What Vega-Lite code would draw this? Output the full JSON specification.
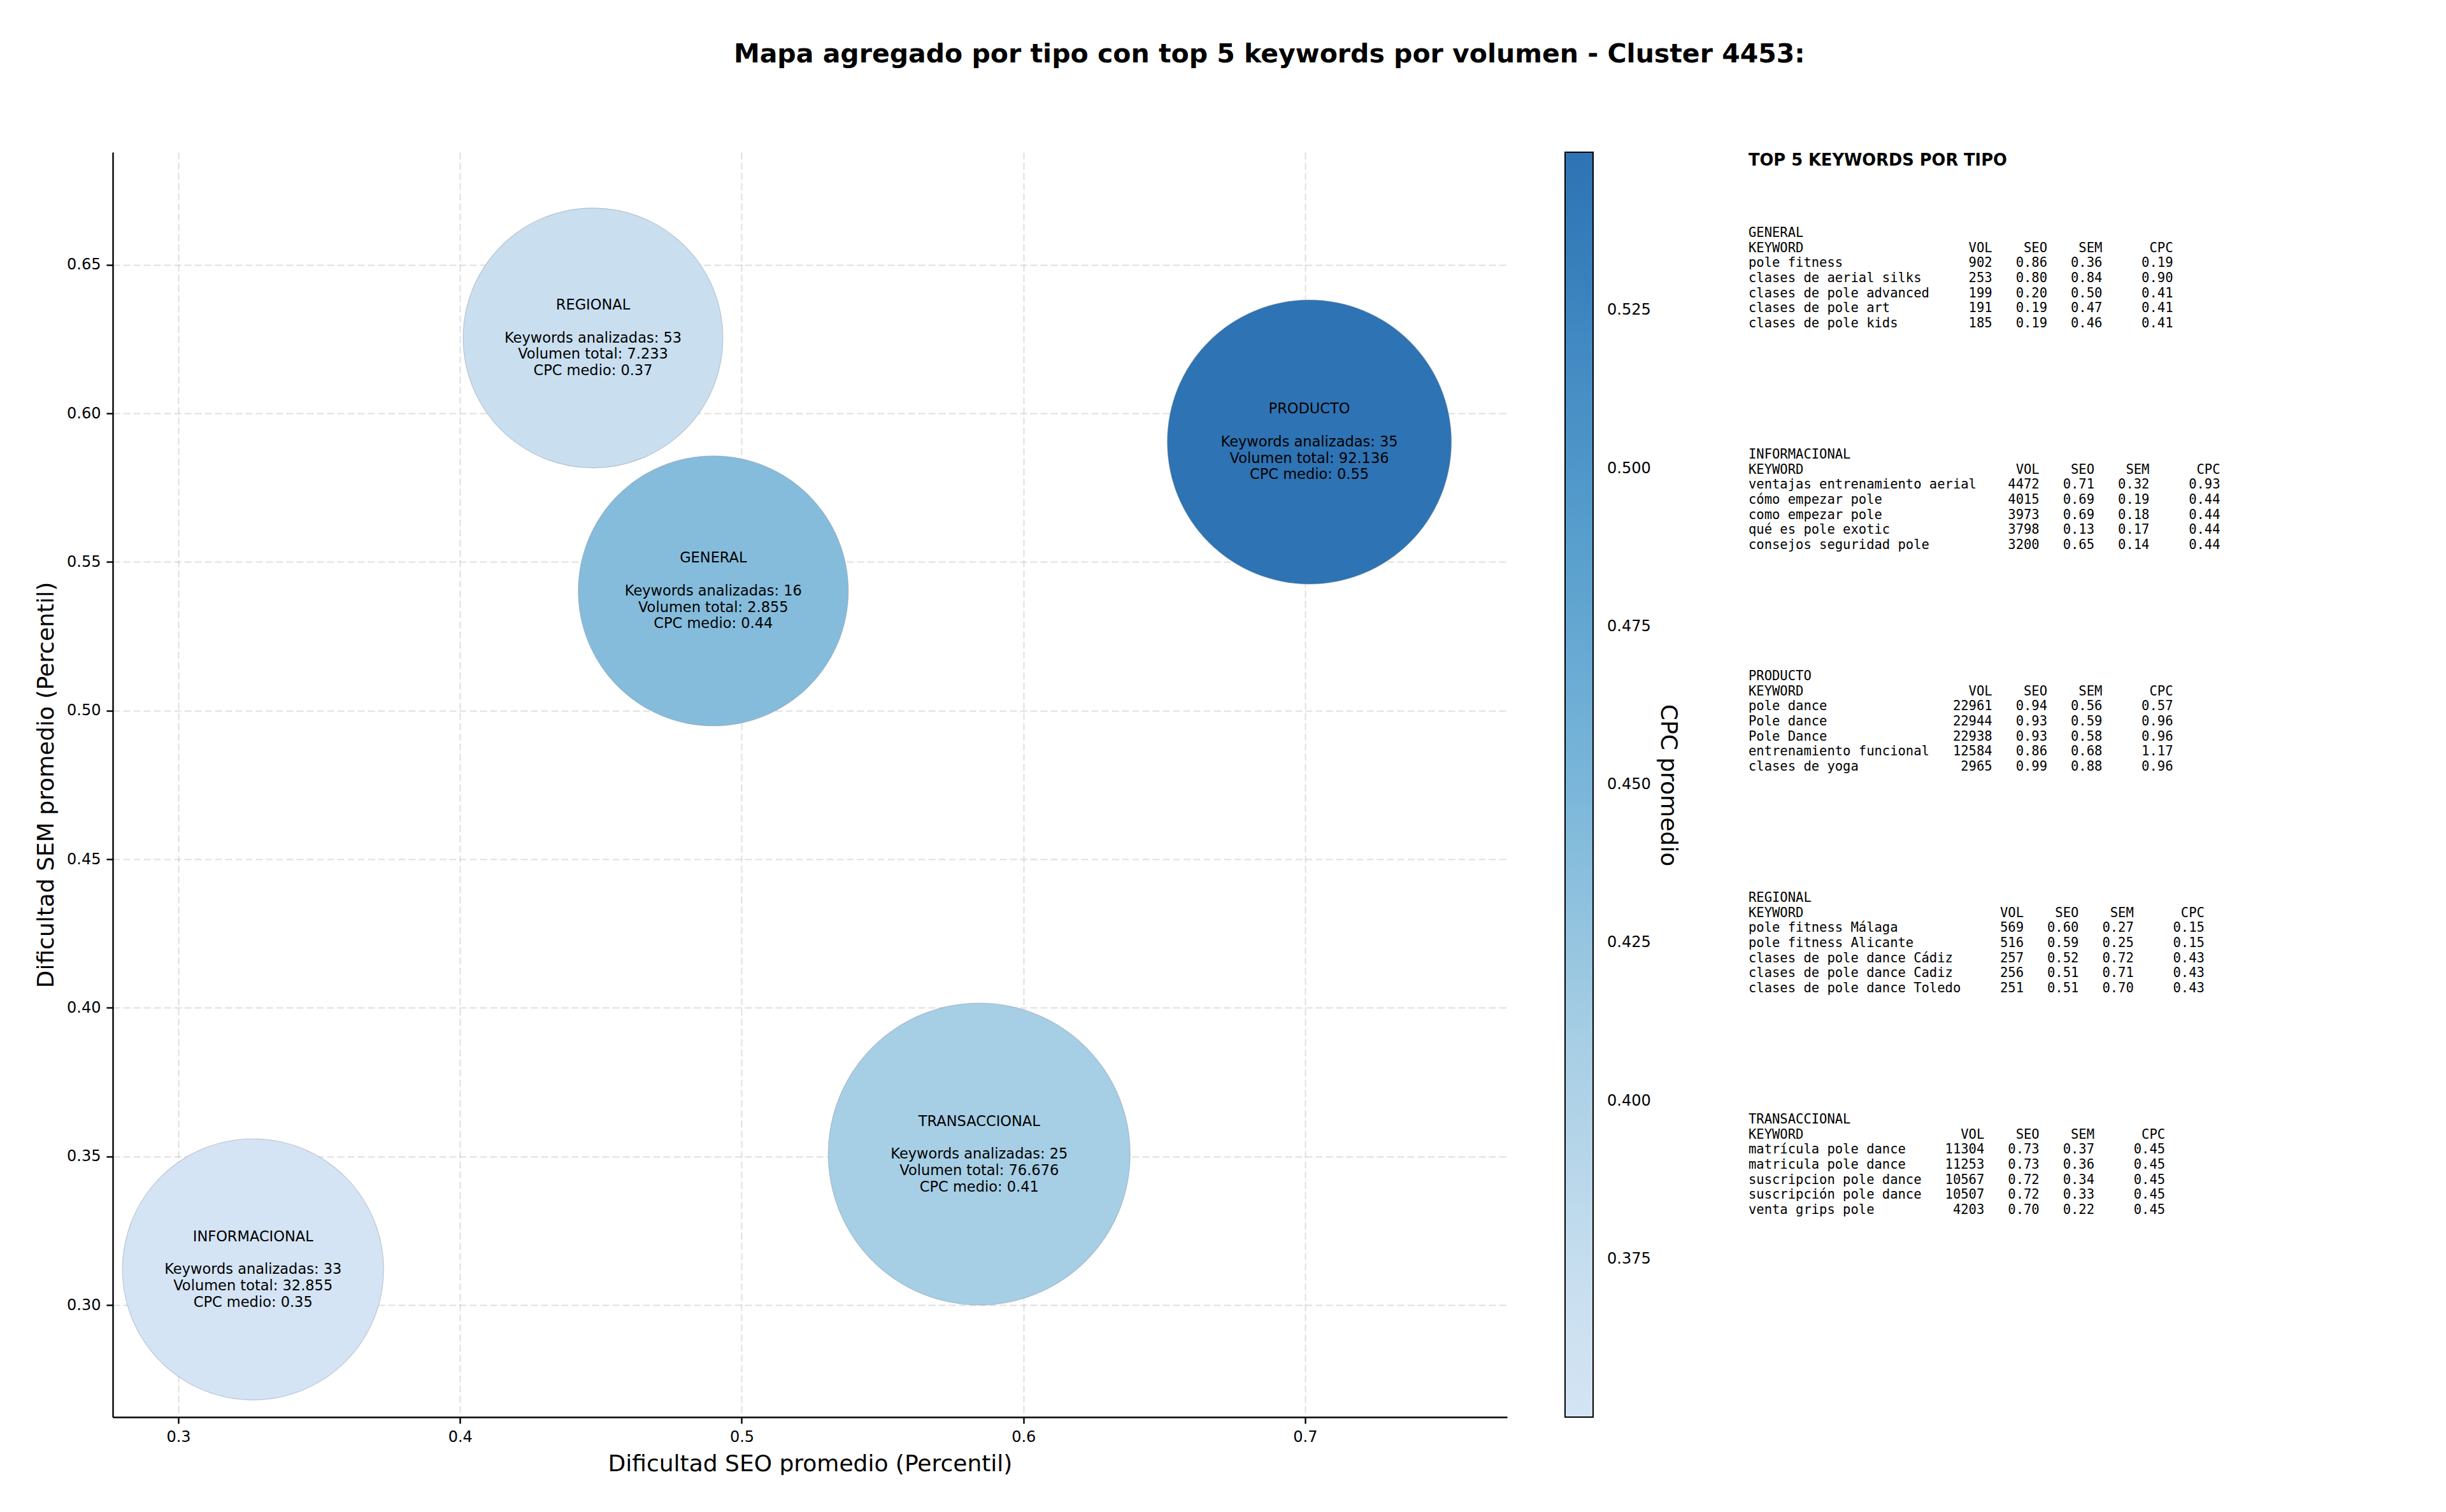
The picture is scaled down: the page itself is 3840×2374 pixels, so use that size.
{
  "$schema": "https://vega.github.io/schema/vega-lite/v6.json",
  "padding": {"left": 54, "top": 65, "right": 0, "bottom": 0},
  "background": "white",
  "title": {
    "text": "Mapa agregado por tipo con top 5 keywords por volumen - Cluster 4453:",
    "font": "DejaVu Sans", "fontSize": 41, "fontWeight": "bold", "color": "black",
    "anchor": "middle", "offset": 132, "dx": 213
  },
  "config": {
    "font": "DejaVu Sans",
    "view": {"stroke": null},
    "axis": {
      "domainColor": "black", "domainWidth": 2.4,
      "tickColor": "black", "tickWidth": 2.4, "tickSize": 10,
      "labelFont": "DejaVu Sans", "labelFontSize": 24, "labelColor": "black", "labelPadding": 9,
      "titleFont": "DejaVu Sans", "titleFontSize": 36, "titleFontWeight": "normal", "titleColor": "black", "titlePadding": 13,
      "grid": true, "gridColor": "#b0b0b0", "gridOpacity": 0.4, "gridDash": [11, 5], "gridWidth": 2,
      "zindex": 1, "labelFlush": false
    }
  },
  "spacing": 108,
  "resolve": {"scale": {"color": "independent", "size": "independent"}, "legend": {"color": "independent", "size": "independent"}},
  "hconcat": [
    {
      "width": 2189,
      "height": 1986,
      "data": {
        "values": [
          {"tipo": "GENERAL", "seo": 0.4899, "sem": 0.5403, "cpc": 0.44, "tamano": 1.08, "etiqueta": "Keywords analizadas: 16\nVolumen total: 2.855\nCPC medio: 0.44"},
          {"tipo": "INFORMACIONAL", "seo": 0.3265, "sem": 0.312, "cpc": 0.35, "tamano": 1.01, "etiqueta": "Keywords analizadas: 33\nVolumen total: 32.855\nCPC medio: 0.35"},
          {"tipo": "PRODUCTO", "seo": 0.7015, "sem": 0.5904, "cpc": 0.55, "tamano": 1.195, "etiqueta": "Keywords analizadas: 35\nVolumen total: 92.136\nCPC medio: 0.55"},
          {"tipo": "REGIONAL", "seo": 0.4472, "sem": 0.6254, "cpc": 0.37, "tamano": 1.0, "etiqueta": "Keywords analizadas: 53\nVolumen total: 7.233\nCPC medio: 0.37"},
          {"tipo": "TRANSACCIONAL", "seo": 0.5843, "sem": 0.3508, "cpc": 0.41, "tamano": 1.35, "etiqueta": "Keywords analizadas: 25\nVolumen total: 76.676\nCPC medio: 0.41"}
        ]
      },
      "layer": [
        {
          "mark": {"type": "circle", "opacity": 1, "stroke": "#6f7f8f", "strokeWidth": 1.2, "strokeOpacity": 0.35},
          "encoding": {
            "x": {
              "field": "seo", "type": "quantitative",
              "scale": {"domain": [0.2767, 0.7717], "nice": false, "zero": false},
              "axis": {"title": "Dificultad SEO promedio (Percentil)", "values": [0.3, 0.4, 0.5, 0.6, 0.7], "format": ".1f"}
            },
            "y": {
              "field": "sem", "type": "quantitative",
              "scale": {"domain": [0.2623, 0.6879], "nice": false, "zero": false},
              "axis": {"title": "Dificultad SEM promedio (Percentil)", "values": [0.3, 0.35, 0.4, 0.45, 0.5, 0.55, 0.6, 0.65], "format": ".2f"}
            },
            "size": {
              "field": "tamano", "type": "quantitative",
              "scale": {"domain": [0, 1.35], "range": [0, 224676], "zero": true},
              "legend": null
            },
            "color": {
              "field": "cpc", "type": "quantitative",
              "scale": {
                "domain": [0.35, 0.3667, 0.4083, 0.45, 0.4917, 0.5333, 0.55],
                "range": ["#d4e4f4", "#cce0f1", "#a8cfe4", "#7ab6da", "#559dcc", "#377fbc", "#2e73b3"],
                "interpolate": "rgb"
              },
              "legend": {
                "title": "CPC promedio", "type": "gradient", "direction": "vertical", "orient": "right",
                "offset": 91, "padding": 0,
                "gradientLength": 1986, "gradientThickness": 44,
                "gradientStrokeColor": "black", "gradientStrokeWidth": 2,
                "labelFont": "DejaVu Sans", "labelFontSize": 24, "labelColor": "black", "labelOffset": 22,
                "values": [0.375, 0.4, 0.425, 0.45, 0.475, 0.5, 0.525], "format": ".3f",
                "titleOrient": "right", "titleFont": "DejaVu Sans", "titleFontSize": 36, "titleFontWeight": "normal",
                "titleColor": "black", "titleAnchor": "middle", "titleAlign": "center", "titleBaseline": "top",
                "titlePadding": 44, "titleLimit": 800,
                "encode": {"title": {"angle": {"value": -90}}}
              }
            }
          }
        },
        {
          "mark": {"type": "text", "font": "DejaVu Sans", "fontSize": 22.5, "align": "center", "baseline": "middle", "dy": -51.5, "color": "black"},
          "encoding": {
            "x": {"field": "seo", "type": "quantitative"},
            "y": {"field": "sem", "type": "quantitative"},
            "text": {"field": "tipo"}
          }
        },
        {
          "mark": {"type": "text", "lineBreak": "\n", "font": "DejaVu Sans", "fontSize": 22.5, "lineHeight": 25.75, "align": "center", "baseline": "middle", "color": "black"},
          "encoding": {
            "x": {"field": "seo", "type": "quantitative"},
            "y": {"field": "sem", "type": "quantitative"},
            "text": {"field": "etiqueta"}
          }
        }
      ]
    },
    {
      "spacing": 91,
      "vconcat": [
        {
          "width": 760,
          "height": 26,
          "data": {"values": [{"titulo": "TOP 5 KEYWORDS POR TIPO"}]},
          "mark": {"type": "text", "align": "left", "baseline": "middle", "font": "DejaVu Sans", "fontSize": 25.7, "fontWeight": "bold", "color": "black"},
          "encoding": {
            "x": {"datum": 0, "type": "quantitative", "scale": {"domain": [0, 1]}, "axis": null},
            "text": {"field": "titulo"}
          }
        },
        {
          "data": {
            "values": [
              {"tipo": "GENERAL", "rank": 1, "keyword": "pole fitness", "vol": 902, "seo": 0.86, "sem": 0.36, "cpc": 0.19},
              {"tipo": "GENERAL", "rank": 2, "keyword": "clases de aerial silks", "vol": 253, "seo": 0.80, "sem": 0.84, "cpc": 0.90},
              {"tipo": "GENERAL", "rank": 3, "keyword": "clases de pole advanced", "vol": 199, "seo": 0.20, "sem": 0.50, "cpc": 0.41},
              {"tipo": "GENERAL", "rank": 4, "keyword": "clases de pole art", "vol": 191, "seo": 0.19, "sem": 0.47, "cpc": 0.41},
              {"tipo": "GENERAL", "rank": 5, "keyword": "clases de pole kids", "vol": 185, "seo": 0.19, "sem": 0.46, "cpc": 0.41},
              {"tipo": "INFORMACIONAL", "rank": 1, "keyword": "ventajas entrenamiento aerial", "vol": 4472, "seo": 0.71, "sem": 0.32, "cpc": 0.93},
              {"tipo": "INFORMACIONAL", "rank": 2, "keyword": "cómo empezar pole", "vol": 4015, "seo": 0.69, "sem": 0.19, "cpc": 0.44},
              {"tipo": "INFORMACIONAL", "rank": 3, "keyword": "como empezar pole", "vol": 3973, "seo": 0.69, "sem": 0.18, "cpc": 0.44},
              {"tipo": "INFORMACIONAL", "rank": 4, "keyword": "qué es pole exotic", "vol": 3798, "seo": 0.13, "sem": 0.17, "cpc": 0.44},
              {"tipo": "INFORMACIONAL", "rank": 5, "keyword": "consejos seguridad pole", "vol": 3200, "seo": 0.65, "sem": 0.14, "cpc": 0.44},
              {"tipo": "PRODUCTO", "rank": 1, "keyword": "pole dance", "vol": 22961, "seo": 0.94, "sem": 0.56, "cpc": 0.57},
              {"tipo": "PRODUCTO", "rank": 2, "keyword": "Pole dance", "vol": 22944, "seo": 0.93, "sem": 0.59, "cpc": 0.96},
              {"tipo": "PRODUCTO", "rank": 3, "keyword": "Pole Dance", "vol": 22938, "seo": 0.93, "sem": 0.58, "cpc": 0.96},
              {"tipo": "PRODUCTO", "rank": 4, "keyword": "entrenamiento funcional", "vol": 12584, "seo": 0.86, "sem": 0.68, "cpc": 1.17},
              {"tipo": "PRODUCTO", "rank": 5, "keyword": "clases de yoga", "vol": 2965, "seo": 0.99, "sem": 0.88, "cpc": 0.96},
              {"tipo": "REGIONAL", "rank": 1, "keyword": "pole fitness Málaga", "vol": 569, "seo": 0.60, "sem": 0.27, "cpc": 0.15},
              {"tipo": "REGIONAL", "rank": 2, "keyword": "pole fitness Alicante", "vol": 516, "seo": 0.59, "sem": 0.25, "cpc": 0.15},
              {"tipo": "REGIONAL", "rank": 3, "keyword": "clases de pole dance Cádiz", "vol": 257, "seo": 0.52, "sem": 0.72, "cpc": 0.43},
              {"tipo": "REGIONAL", "rank": 4, "keyword": "clases de pole dance Cadiz", "vol": 256, "seo": 0.51, "sem": 0.71, "cpc": 0.43},
              {"tipo": "REGIONAL", "rank": 5, "keyword": "clases de pole dance Toledo", "vol": 251, "seo": 0.51, "sem": 0.70, "cpc": 0.43},
              {"tipo": "TRANSACCIONAL", "rank": 1, "keyword": "matrícula pole dance", "vol": 11304, "seo": 0.73, "sem": 0.37, "cpc": 0.45},
              {"tipo": "TRANSACCIONAL", "rank": 2, "keyword": "matricula pole dance", "vol": 11253, "seo": 0.73, "sem": 0.36, "cpc": 0.45},
              {"tipo": "TRANSACCIONAL", "rank": 3, "keyword": "suscripcion pole dance", "vol": 10567, "seo": 0.72, "sem": 0.34, "cpc": 0.45},
              {"tipo": "TRANSACCIONAL", "rank": 4, "keyword": "suscripción pole dance", "vol": 10507, "seo": 0.72, "sem": 0.33, "cpc": 0.45},
              {"tipo": "TRANSACCIONAL", "rank": 5, "keyword": "venta grips pole", "vol": 4203, "seo": 0.70, "sem": 0.22, "cpc": 0.45}
            ]
          },
          "transform": [
            {"calculate": "length(datum.keyword)", "as": "len"},
            {"joinaggregate": [{"op": "max", "field": "len", "as": "maxlen"}], "groupby": ["tipo"]},
            {"calculate": "pad(datum.keyword, datum.maxlen + 2, '\u00a0', 'right') + pad(format(datum.vol, 'd'), 6, '\u00a0', 'left') + pad(format(datum.seo, '.2f'), 7, '\u00a0', 'left') + pad(format(datum.sem, '.2f'), 7, '\u00a0', 'left') + pad(format(datum.cpc, '.2f'), 9, '\u00a0', 'left')", "as": "linea"},
            {"calculate": "pad('KEYWORD', datum.maxlen + 2, '\u00a0', 'right') + pad('VOL', 6, '\u00a0', 'left') + pad('SEO', 7, '\u00a0', 'left') + pad('SEM', 7, '\u00a0', 'left') + pad('CPC', 9, '\u00a0', 'left')", "as": "cabecera"}
          ],
          "facet": {
            "row": {"field": "tipo", "type": "nominal", "sort": ["GENERAL", "INFORMACIONAL", "PRODUCTO", "REGIONAL", "TRANSACCIONAL"], "header": null}
          },
          "spacing": {"row": 185},
          "spec": {
            "width": 760,
            "height": 142,
            "layer": [
              {
                "mark": {"type": "text", "align": "left", "baseline": "middle", "font": "DejaVu Sans Mono", "fontSize": 20.5, "color": "black"},
                "encoding": {
                  "x": {"datum": 0, "type": "quantitative", "scale": {"domain": [0, 1]}, "axis": null},
                  "y": {"field": "rank", "type": "quantitative", "scale": {"domain": [-1, 5], "reverse": true, "nice": false, "zero": false}, "axis": null},
                  "text": {"field": "linea"}
                }
              },
              {
                "transform": [{"filter": "datum.rank == 1"}],
                "mark": {"type": "text", "align": "left", "baseline": "middle", "font": "DejaVu Sans Mono", "fontSize": 20.5, "color": "black"},
                "encoding": {
                  "x": {"datum": 0, "type": "quantitative"},
                  "y": {"datum": 0, "type": "quantitative"},
                  "text": {"field": "cabecera"}
                }
              },
              {
                "transform": [{"filter": "datum.rank == 1"}],
                "mark": {"type": "text", "align": "left", "baseline": "middle", "font": "DejaVu Sans Mono", "fontSize": 20.5, "color": "black"},
                "encoding": {
                  "x": {"datum": 0, "type": "quantitative"},
                  "y": {"datum": -1, "type": "quantitative"},
                  "text": {"field": "tipo"}
                }
              }
            ]
          }
        }
      ]
    }
  ]
}
